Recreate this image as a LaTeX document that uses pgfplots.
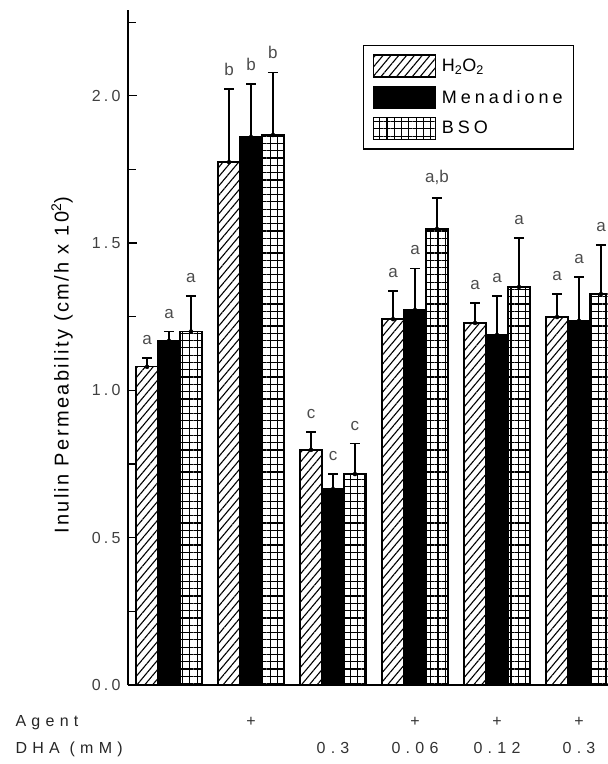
\documentclass[border=0pt]{standalone}
\usepackage{fontspec}
\setmainfont{Liberation Sans}
\newfontfamily\lsAxis[LetterSpace=33]{Liberation Sans}
\newfontfamily\lsTick[LetterSpace=20]{Liberation Sans}
\newfontfamily\lsLeg[LetterSpace=22]{Liberation Sans}
\newfontfamily\lsLab[LetterSpace=12]{Liberation Sans}
\usepackage{pgfplots}
\pgfplotsset{compat=1.18}
\usepackage{pgfplotstable}
\usetikzlibrary{patterns.meta}

\pgfplotstableread{
x H eH lH M eM lM B eB lB
0 1.080 0.030 a 1.168 0.032 a 1.200 0.120 a
1 1.775 0.248 b 1.860 0.180 b 1.867 0.213 b
2 0.798 0.061 c 0.665 0.051 c 0.716 0.104 c
3 1.242 0.095 a 1.273 0.142 a 1.548 0.105 a,b
4 1.229 0.068 a 1.188 0.132 a 1.351 0.166 a
5 1.249 0.078 a 1.236 0.149 a 1.327 0.167 a
}\data

\pgfplotsset{
  mybar/.style={ybar, bar width=0.268, draw=black, line width=1.3pt,
    legend image code/.code={\draw[##1, line width=1.2pt] (0pt,-11pt) rectangle (62pt,11pt);}},
  myerr/.style={draw=none, mark=none, only marks, forget plot,
    error bars/.cd, y dir=plus, y explicit,
    error bar style={draw=black, line width=1.3pt},
    error mark options={draw=black, rotate=90, mark size=5pt, line width=1.3pt}},
  mylab/.style={draw=none, mark=none, only marks, forget plot,
    nodes near coords, point meta=explicit symbolic,
    nodes near coords style={font=\fontsize{17}{19}\selectfont, text=black!70,
      anchor=south, inner sep=0pt, yshift=13pt}},
}

\begin{document}
\begin{tikzpicture}
\begin{axis}[
  scale only axis, width=479.7pt, height=674.6pt,
  xmin=-0.5, xmax=5.35, ymin=0, ymax=2.29,
  axis x line=bottom, axis y line=left,
  axis line style={line width=1.3pt, -},
  tick align=inside,
  ytick={0,0.5,1,1.5,2},
  minor ytick={0.25,0.75,1.25,1.75,2.25},
  major tick length=9pt, minor tick length=8pt,
  every tick/.style={line width=1.3pt, black},
  yticklabel style={font=\lsTick\fontsize{16}{18}\selectfont, text=black!75, xshift=-4pt,
    /pgf/number format/.cd, fixed, fixed zerofill, precision=1, assume math mode=true},
  xtick={0,1,2,3,4,5},
  xticklabels={{},{},0.3,0.06,0.12,0.3},
  x tick style={draw=none},
  xticklabel style={font=\lsAxis\fontsize{16}{18}\selectfont, text=black!80, anchor=base, yshift=-68pt},
  extra x ticks={1,3,4,5},
  extra x tick labels={+,+,+,+},
  extra x tick style={xticklabel style={yshift=27pt}, x tick style={draw=none}},
  ylabel={Inulin Permeability (cm/h x 10\textsuperscript{2})},
  ylabel style={at={(axis description cs:-0.1376,0.474)}, anchor=center,
    font=\lsLab\fontsize{20}{22}\selectfont},
  legend style={at={(axis description cs:0.49,0.949)}, anchor=north west,
    draw=black, line width=1.3pt, font=\lsLeg\fontsize{18}{20}\selectfont,
    row sep=8pt, inner xsep=9pt, inner ysep=9pt},
  legend cell align=left,
]
\addplot[mybar, bar shift=-0.268, pattern={Lines[angle=50, distance=6pt, line width=1.1pt]}]
  table[x=x, y=H] {\data};
\addlegendentry{\hspace{4pt}H\textsubscript{2}O\textsubscript{2}}
\addplot[mybar, bar shift=0, fill=black]
  table[x=x, y=M] {\data};
\addlegendentry{\hspace{4pt}Menadione\hspace{12pt}}
\addplot[mybar, bar shift=0.268, pattern={Hatch[angle=0, distance=7.3pt, line width=1.2pt]}]
  table[x=x, y=B] {\data};
\addlegendentry{\hspace{4pt}BSO}

\addplot[myerr] table[x expr=\thisrow{x}-0.268, y=H, y error=eH] {\data};
\addplot[myerr] table[x expr=\thisrow{x}, y=M, y error=eM] {\data};
\addplot[myerr] table[x expr=\thisrow{x}+0.268, y=B, y error=eB] {\data};

\addplot[mylab] table[x expr=\thisrow{x}-0.268, y expr=\thisrow{H}+\thisrow{eH}, meta=lH] {\data};
\addplot[mylab] table[x expr=\thisrow{x}, y expr=\thisrow{M}+\thisrow{eM}, meta=lM] {\data};
\addplot[mylab] table[x expr=\thisrow{x}+0.268, y expr=\thisrow{B}+\thisrow{eB}, meta=lB] {\data};
\end{axis}
\node[anchor=base west, font=\lsAxis\fontsize{16}{18}\selectfont, text=black!85]
  at ([xshift=-116pt,yshift=-41pt]current axis.south west) {Agent};
\node[anchor=base west, font=\lsAxis\fontsize{16}{18}\selectfont, text=black!85]
  at ([xshift=-116pt,yshift=-68pt]current axis.south west) {DHA (mM)};
\pgfresetboundingbox
\path[use as bounding box] ([xshift=-128pt,yshift=-79pt]current axis.south west) rectangle ++(608pt,764pt);
\end{tikzpicture}
\end{document}
